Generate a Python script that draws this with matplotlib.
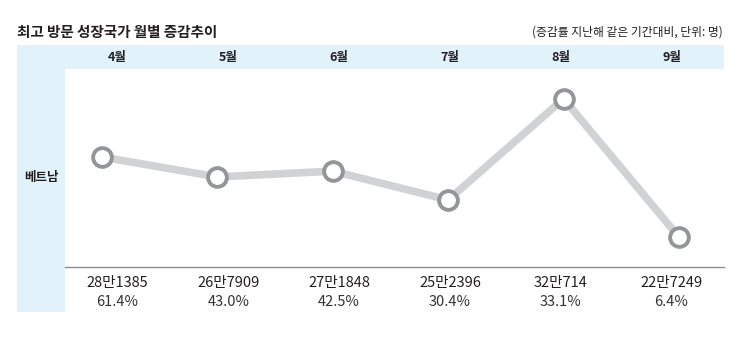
import matplotlib
matplotlib.use("Agg")
import matplotlib.pyplot as plt
from matplotlib.patches import Rectangle

plt.rcParams['font.family'] = ['Noto Sans CJK KR', 'DejaVu Sans']

months = ["4월", "5월", "6월", "7월", "8월", "9월"]
visitors = [281385, 267909, 271848, 252396, 320714, 227249]
visitor_labels = ["28만1385", "26만7909", "27만1848", "25만2396", "32만714", "22만7249"]
growth_labels = ["61.4%", "43.0%", "42.5%", "30.4%", "33.1%", "6.4%"]
country = "베트남"
title = "최고 방문 성장국가 월별 증감추이"
note = "(증감률 지난해 같은 기간대비, 단위: 명)"

W, H = 752, 348
fig = plt.figure(figsize=(W / 100, H / 100), dpi=100)
fig.patch.set_facecolor("white")

def fx(px):
    return px / W

def fy(py):
    return 1 - py / H

blue = "#e1f2fb"
dark = "#231f20"

# background bands
fig.patches.append(Rectangle((fx(17), fy(69)), fx(724) - fx(17), fy(45) - fy(69),
                             transform=fig.transFigure, facecolor=blue, edgecolor="none", zorder=0))
fig.patches.append(Rectangle((fx(17), fy(312)), fx(65) - fx(17), fy(45) - fy(312),
                             transform=fig.transFigure, facecolor=blue, edgecolor="none", zorder=0))

# title and note
fig.text(fx(17), fy(32), title, fontsize=10.5, fontweight="bold", color=dark, ha="left", va="center")
fig.text(fx(723), fy(32), note, fontsize=8.5, color=dark, ha="right", va="center")

# country label
fig.text(fx(41), fy(178), country, fontsize=9, fontweight="bold", color=dark, ha="center", va="center")

# plot axes
ax = fig.add_axes([fx(65), fy(267), fx(724) - fx(65), fy(69) - fy(267)])
ax.set_facecolor("none")
x = list(range(len(visitors)))
ax.plot(x, visitors, color="#d1d2d4", lw=5.5, solid_capstyle="butt", zorder=2)
ax.plot(x, visitors, linestyle="none", marker="o", markersize=13.5,
        markerfacecolor="white", markeredgecolor="#939598", markeredgewidth=2.8, zorder=3)
step = 115.4
ax.set_xlim((65 - 102) / step, (724 - 102) / step)
ax.set_ylim(207061, 340844)
ax.axis("off")

# baseline
fig.add_artist(plt.Line2D([fx(65), fx(724)], [fy(267), fy(267)], transform=fig.transFigure,
                          color="#8c8c8c", lw=1.0))

# column texts
for i in range(len(months)):
    cx = fx(117.5 + i * 110.8)
    fig.text(cx, fy(57), months[i], fontsize=9, fontweight="bold", color=dark, ha="center", va="center")
    fig.text(cx, fy(283), visitor_labels[i], fontsize=10.5, color=dark, ha="center", va="center")
    fig.text(cx, fy(302), growth_labels[i], fontsize=10.5, color="#333333", ha="center", va="center")

fig.savefig("out.png", dpi=100, facecolor="white")
